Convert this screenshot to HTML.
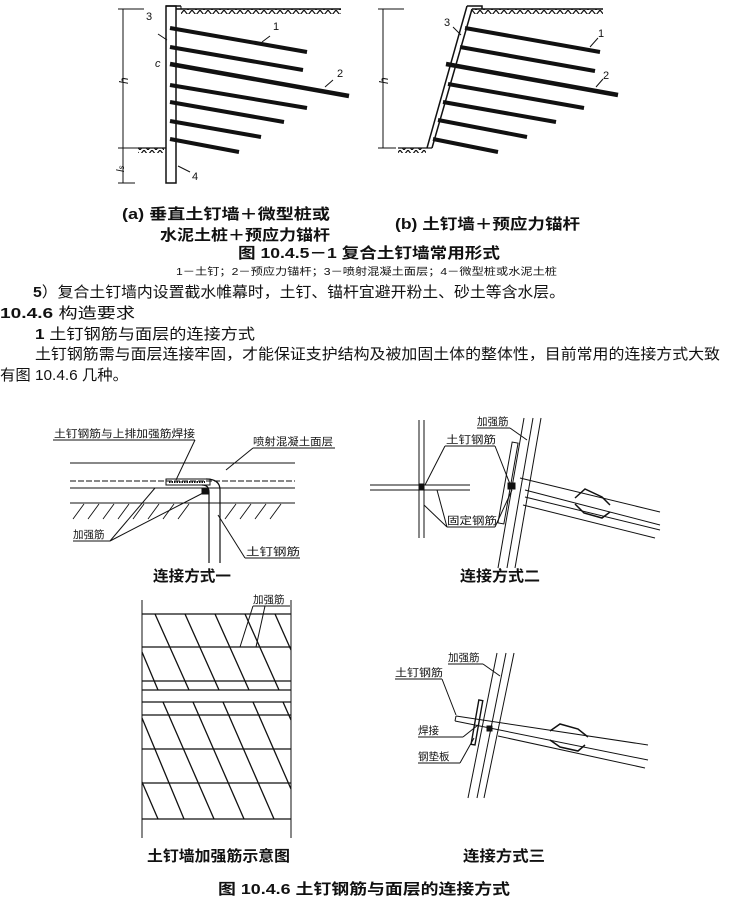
<!DOCTYPE html>
<html><head><meta charset="utf-8"><style>
body{margin:0;background:#fff}
svg{display:block}
text{font-family:"Liberation Sans","Noto Sans CJK SC",sans-serif;fill:#111}
.b{font-weight:bold}
</style></head><body>
<svg width="729" height="901" viewBox="0 0 729 901" xmlns="http://www.w3.org/2000/svg">
<defs>
<pattern id="gr" width="8" height="5" patternUnits="userSpaceOnUse"><path d="M0,0 L4,5 L8,0" fill="none" stroke="#111" stroke-width="1.2"/></pattern>
</defs>
<g stroke="#111" fill="none">
<rect x="181" y="9" width="160" height="5" fill="url(#gr)" stroke="none"/>
<line x1="176" y1="9" x2="341" y2="9" stroke-width="1.5"/>
<rect x="166" y="6" width="10" height="177" stroke-width="1.5"/>
<line x1="166" y1="6" x2="181" y2="6" stroke-width="1.5"/><line x1="181" y1="6" x2="181" y2="9"/>
<rect x="138" y="148" width="26" height="5" fill="url(#gr)" stroke="none"/>
<line x1="138" y1="148" x2="166" y2="148" stroke-width="1.2"/>
<line x1="123" y1="9" x2="123" y2="183"/>
<line x1="118" y1="9" x2="144" y2="9"/><line x1="118" y1="148" x2="138" y2="148"/><line x1="118" y1="183" x2="135" y2="183"/>
<g stroke-width="4">
<line x1="170" y1="28" x2="307" y2="52"/><line x1="170" y1="47" x2="303" y2="70"/>
<line x1="170" y1="64" x2="349" y2="96" stroke-width="4.5"/><line x1="170" y1="85" x2="307" y2="108"/>
<line x1="170" y1="102" x2="284" y2="122"/><line x1="170" y1="121" x2="261" y2="137"/><line x1="170" y1="139" x2="239" y2="152"/>
</g>
<line x1="270" y1="36" x2="262" y2="42"/><line x1="333" y1="80" x2="325" y2="87"/>
<line x1="158" y1="34" x2="167" y2="40"/><line x1="190" y1="172" x2="178" y2="166"/>
<rect x="472" y="9" width="131" height="5" fill="url(#gr)" stroke="none"/>
<line x1="472" y1="9" x2="603" y2="9" stroke-width="1.5"/>
<polyline points="467,6 482,6 482,9" stroke-width="1.5"/>
<line x1="467" y1="6" x2="427" y2="148" stroke-width="1.5"/>
<line x1="472" y1="9" x2="432" y2="148" stroke-width="1.5"/>
<rect x="398" y="148" width="28" height="5" fill="url(#gr)" stroke="none"/>
<line x1="398" y1="148" x2="432" y2="148" stroke-width="1.2"/>
<line x1="383" y1="9" x2="383" y2="148"/>
<line x1="378" y1="9" x2="404" y2="9"/><line x1="378" y1="148" x2="396" y2="148"/>
<g stroke-width="4">
<line x1="465" y1="28" x2="600" y2="52"/><line x1="460" y1="47" x2="595" y2="71"/>
<line x1="446" y1="64" x2="618" y2="95" stroke-width="4.5"/><line x1="448" y1="84" x2="584" y2="108"/>
<line x1="443" y1="102" x2="556" y2="122"/><line x1="438" y1="120" x2="527" y2="137"/><line x1="433" y1="139" x2="498" y2="152"/>
</g>
<line x1="598" y1="38" x2="590" y2="47"/><line x1="603" y1="79" x2="596" y2="87"/><line x1="453" y1="27" x2="461" y2="35"/>
<line x1="53" y1="440" x2="195" y2="440"/><line x1="195" y1="440" x2="176" y2="480"/>
<line x1="253" y1="448" x2="335" y2="448"/><line x1="253" y1="448" x2="226" y2="470"/>
<line x1="70" y1="463" x2="295" y2="463"/>
<line x1="70" y1="481" x2="295" y2="481" stroke-dasharray="6,2"/>
<line x1="70" y1="488" x2="295" y2="488"/>
<line x1="70" y1="503" x2="295" y2="503"/>
<g stroke-width="0.9">
<path d="M73,519 L84,504 M88,519 L99,504 M103,519 L114,504 M118,519 L129,504 M133,519 L144,504 M148,519 L159,504 M163,519 L174,504 M178,519 L189,504 M225,519 L236,504 M240,519 L251,504 M255,519 L266,504 M270,519 L281,504"/>
</g>
<rect x="166" y="479" width="44" height="6" stroke-width="1"/>
<line x1="169" y1="482" x2="205" y2="482" stroke-dasharray="1.5,1" stroke-width="2"/>
<path d="M209,563 V492 Q209,485 202,485" stroke-width="1.2"/>
<path d="M220,563 V490 Q220,479 206,479" stroke-width="1.2"/>
<rect x="202" y="488" width="6" height="6" fill="#111"/>
<line x1="73" y1="541" x2="110" y2="541"/><line x1="110" y1="541" x2="155" y2="488"/>
<line x1="110" y1="541" x2="203" y2="493"/>
<line x1="245" y1="558" x2="300" y2="558"/><line x1="245" y1="558" x2="218" y2="515"/>
<line x1="419" y1="420" x2="419" y2="538"/><line x1="424" y1="420" x2="424" y2="538"/>
<line x1="370" y1="485" x2="470" y2="485"/><line x1="370" y1="490" x2="470" y2="490"/>
<rect x="419" y="484" width="5" height="6" fill="#111"/>
<line x1="524" y1="418" x2="498" y2="568"/><line x1="533" y1="418" x2="507" y2="568"/><line x1="541" y1="418" x2="515" y2="568"/>
<rect x="505" y="442" width="6" height="82" transform="rotate(10 508 483)"/>
<line x1="520" y1="478" x2="660" y2="512"/><line x1="525" y1="490" x2="660" y2="525"/><line x1="525" y1="497" x2="660" y2="530"/><line x1="523" y1="505" x2="655" y2="538"/>
<path d="M575,498 L585,489 L602,497 L610,505 M575,504 L584,513 L602,518 L610,512" stroke-width="1.5"/>
<rect x="508" y="483" width="7" height="6" fill="#111"/>
<line x1="477" y1="428" x2="510" y2="428"/><line x1="510" y1="428" x2="527" y2="440"/>
<line x1="445" y1="446" x2="495" y2="446"/><line x1="445" y1="446" x2="425" y2="485"/><line x1="495" y1="446" x2="510" y2="484"/>
<line x1="447" y1="527" x2="495" y2="527"/><line x1="447" y1="527" x2="424" y2="505"/><line x1="447" y1="527" x2="437" y2="490"/><line x1="495" y1="527" x2="512" y2="490"/>
<line x1="142" y1="600" x2="142" y2="838"/><line x1="291" y1="600" x2="291" y2="838"/>
<g stroke-width="1.2">
<line x1="142" y1="614" x2="291" y2="614"/><line x1="142" y1="647" x2="291" y2="647"/><line x1="142" y1="681" x2="291" y2="681"/>
<line x1="142" y1="690" x2="291" y2="690"/><line x1="142" y1="702" x2="291" y2="702"/><line x1="142" y1="715" x2="291" y2="715"/>
<line x1="142" y1="749" x2="291" y2="749"/><line x1="142" y1="783" x2="291" y2="783"/><line x1="142" y1="819" x2="291" y2="819"/>
</g>
<g stroke-width="1.3">
<line x1="155" y1="614" x2="189" y2="690"/><line x1="185" y1="614" x2="219" y2="690"/><line x1="215" y1="614" x2="249" y2="690"/><line x1="245" y1="614" x2="279" y2="690"/><line x1="275" y1="614" x2="291" y2="650"/>
<line x1="142" y1="652" x2="158" y2="690"/>
<line x1="163" y1="702" x2="214" y2="819"/><line x1="193" y1="702" x2="244" y2="819"/><line x1="223" y1="702" x2="274" y2="819"/><line x1="253" y1="702" x2="291" y2="789"/><line x1="283" y1="702" x2="291" y2="720"/>
<line x1="142" y1="718" x2="184" y2="819"/><line x1="142" y1="782" x2="158" y2="819"/>
</g>
<line x1="253" y1="606" x2="290" y2="606"/><line x1="253" y1="606" x2="240" y2="647"/><line x1="265" y1="606" x2="256" y2="647"/>
<line x1="497" y1="653" x2="468" y2="798"/><line x1="506" y1="653" x2="477" y2="798"/><line x1="514" y1="653" x2="484" y2="798"/>
<line x1="456" y1="716" x2="648" y2="745"/><line x1="456" y1="716" x2="455" y2="721"/><line x1="455" y1="721" x2="648" y2="760"/>
<line x1="498" y1="736" x2="645" y2="768"/>
<path d="M550,731 L560,724 L578,729 L588,737 M550,740 L560,747 L578,751 L585,745" stroke-width="1.5"/>
<rect x="475" y="700" width="4" height="45" transform="rotate(10 477 722)" stroke-width="1.4"/>
<rect x="487" y="726" width="5" height="5" fill="#111"/>
<line x1="448" y1="664" x2="483" y2="664"/><line x1="483" y1="664" x2="500" y2="676"/>
<line x1="395" y1="679" x2="442" y2="679"/><line x1="442" y1="679" x2="456" y2="715"/>
<line x1="418" y1="737" x2="463" y2="737"/><line x1="463" y1="737" x2="478" y2="725"/>
<line x1="418" y1="763" x2="460" y2="763"/><line x1="460" y1="763" x2="474" y2="738"/>
</g>
<text x="146" y="20" font-size="11" font-family="Liberation Serif">3</text>
<text x="273" y="30" font-size="11" font-family="Liberation Serif">1</text>
<text x="337" y="77" font-size="11" font-family="Liberation Serif">2</text>
<text x="192" y="180" font-size="11" font-family="Liberation Serif">4</text>
<text x="155" y="67" font-size="11" font-family="Liberation Serif" font-style="italic">c</text>
<text x="120" y="84" font-size="12" font-family="Liberation Serif" font-style="italic" transform="rotate(-90 124 80)">h</text>
<text x="114" y="170" font-size="11" font-family="Liberation Serif" font-style="italic" transform="rotate(-90 120 166)">l<tspan font-size="8">s</tspan></text>
<text x="444" y="26" font-size="11" font-family="Liberation Serif">3</text>
<text x="598" y="37" font-size="11" font-family="Liberation Serif">1</text>
<text x="603" y="79" font-size="11" font-family="Liberation Serif">2</text>
<text x="380" y="84" font-size="12" font-family="Liberation Serif" font-style="italic" transform="rotate(-90 384 80)">h</text>
<text x="122" y="219" font-size="15" class="b" textLength="208" lengthAdjust="spacingAndGlyphs">(a)  垂直土钉墙＋微型桩或</text>
<text x="160" y="240" font-size="15" class="b" textLength="170" lengthAdjust="spacingAndGlyphs">水泥土桩＋预应力锚杆</text>
<text x="395" y="229" font-size="15" class="b" textLength="185" lengthAdjust="spacingAndGlyphs">(b)  土钉墙＋预应力锚杆</text>
<text x="238" y="258" font-size="15" class="b" textLength="262" lengthAdjust="spacingAndGlyphs">图 10.4.5－1    复合土钉墙常用形式</text>
<text x="176" y="275" font-size="10" textLength="381" lengthAdjust="spacingAndGlyphs">1－土钉；2－预应力锚杆；3－喷射混凝土面层；4－微型桩或水泥土桩</text>
<text x="33" y="297" font-size="15" textLength="532" lengthAdjust="spacingAndGlyphs"><tspan class="b">5</tspan>）复合土钉墙内设置截水帷幕时，土钉、锚杆宜避开粉土、砂土等含水层。</text>
<text x="0" y="318" font-size="15" textLength="135" lengthAdjust="spacingAndGlyphs"><tspan class="b">10.4.6</tspan>   构造要求</text>
<text x="35" y="339" font-size="15" textLength="220" lengthAdjust="spacingAndGlyphs"><tspan class="b">1</tspan>   土钉钢筋与面层的连接方式</text>
<text x="35" y="359" font-size="15" textLength="685" lengthAdjust="spacingAndGlyphs">土钉钢筋需与面层连接牢固，才能保证支护结构及被加固土体的整体性，目前常用的连接方式大致</text>
<text x="0" y="380" font-size="15" textLength="128" lengthAdjust="spacingAndGlyphs">有图 10.4.6 几种。</text>
<text x="54" y="437" font-size="10.5" textLength="141" lengthAdjust="spacingAndGlyphs">土钉钢筋与上排加强筋焊接</text>
<text x="253" y="445" font-size="10.5" textLength="80" lengthAdjust="spacingAndGlyphs">喷射混凝土面层</text>
<text x="73" y="538" font-size="10.5">加强筋</text>
<text x="246" y="555" font-size="10.5" textLength="54" lengthAdjust="spacingAndGlyphs">土钉钢筋</text>
<text x="153" y="581" font-size="15" class="b" textLength="78" lengthAdjust="spacingAndGlyphs">连接方式一</text>
<text x="477" y="425" font-size="10.5">加强筋</text>
<text x="446" y="443" font-size="10.5" textLength="50" lengthAdjust="spacingAndGlyphs">土钉钢筋</text>
<text x="447" y="524" font-size="10.5" textLength="50" lengthAdjust="spacingAndGlyphs">固定钢筋</text>
<text x="460" y="581" font-size="15" class="b" textLength="80" lengthAdjust="spacingAndGlyphs">连接方式二</text>
<text x="253" y="603" font-size="10.5">加强筋</text>
<text x="448" y="661" font-size="10.5">加强筋</text>
<text x="395" y="676" font-size="10.5" textLength="48" lengthAdjust="spacingAndGlyphs">土钉钢筋</text>
<text x="418" y="734" font-size="10.5">焊接</text>
<text x="418" y="760" font-size="10.5">钢垫板</text>
<text x="147" y="861" font-size="15" class="b" textLength="143" lengthAdjust="spacingAndGlyphs">土钉墙加强筋示意图</text>
<text x="463" y="861" font-size="15" class="b" textLength="82" lengthAdjust="spacingAndGlyphs">连接方式三</text>
<text x="218" y="894" font-size="15" class="b" textLength="292" lengthAdjust="spacingAndGlyphs">图 10.4.6    土钉钢筋与面层的连接方式</text>
</svg>
</body></html>
